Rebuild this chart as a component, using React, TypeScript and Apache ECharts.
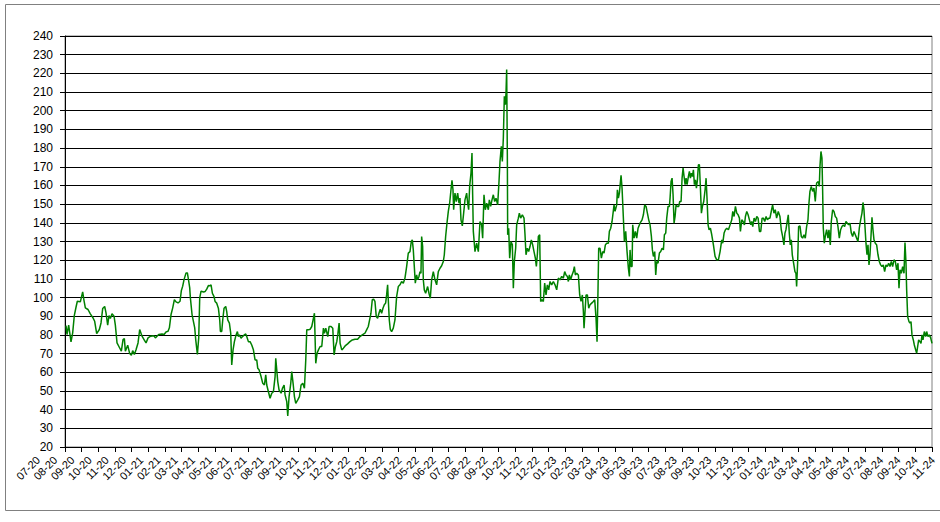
import React, { useEffect, useRef } from "react";
import * as echarts from "echarts";

const monthLabels = [
  "07-20", "08-20", "09-20", "10-20", "11-20", "12-20",
  "01-21", "02-21", "03-21", "04-21", "05-21", "06-21", "07-21", "08-21", "09-21", "10-21", "11-21", "12-21",
  "01-22", "02-22", "03-22", "04-22", "05-22", "06-22", "07-22", "08-22", "09-22", "10-22", "11-22", "12-22",
  "01-23", "02-23", "03-23", "04-23", "05-23", "06-23", "07-23", "08-23", "09-23", "10-23", "11-23", "12-23",
  "01-24", "02-24", "03-24", "04-24", "05-24", "06-24", "07-24", "08-24", "09-24", "10-24", "11-24",
];

// x position in months since July 2020
const monthOffset = [
  0.06, 0.12, 0.22, 0.36, 0.46, 0.56, 0.66, 0.74, 0.92, 1.06, 1.14, 1.22, 1.38, 1.52, 1.68, 1.78, 1.9, 2.06, 2.16, 2.26,
  2.38, 2.46, 2.56, 2.64, 2.72, 2.82, 2.94, 3.02, 3.12, 3.28, 3.38, 3.48, 3.56, 3.62, 3.76, 3.88, 3.98, 4.06, 4.16, 4.26,
  4.38, 4.48, 4.62, 4.74, 4.86, 4.98, 5.14, 5.32, 5.42, 5.62, 5.82, 5.94, 6.06, 6.18, 6.26, 6.36, 6.46, 6.56, 6.66, 6.78,
  6.9, 6.98, 7.06, 7.14, 7.26, 7.34, 7.42, 7.48, 7.52, 7.62, 7.72, 7.78, 7.84, 7.94, 8.02, 8.08, 8.16, 8.32, 8.4, 8.5,
  8.6, 8.7, 8.76, 8.84, 8.94, 9.0, 9.1, 9.2, 9.28, 9.32, 9.4, 9.46, 9.54, 9.64, 9.7, 9.76, 9.86, 9.94, 10.0, 10.08,
  10.16, 10.26, 10.34, 10.4, 10.46, 10.56, 10.64, 10.76, 10.84, 10.9, 11.0, 11.1, 11.2, 11.3, 11.4, 11.5, 11.56, 11.64, 11.76, 11.86,
  11.96, 12.04, 12.1, 12.2, 12.3, 12.4, 12.5, 12.6, 12.64, 12.7, 12.76, 12.84, 12.96, 13.04, 13.14, 13.2, 13.3, 13.36, 13.44, 13.54,
  13.6, 13.68, 13.76, 13.84, 13.96, 14.06, 14.16, 14.26, 14.36, 14.44, 14.5, 14.6, 14.7, 14.8, 14.88, 14.96, 15.04, 15.12, 15.2, 15.3,
  15.4, 15.5, 15.56, 15.64, 15.76, 15.84, 15.96, 16.06, 16.14, 16.22, 16.3, 16.36, 16.44, 16.5, 16.6, 16.7, 16.8, 16.95, 17.09, 17.23,
  17.39, 17.55, 17.69, 17.83, 17.99, 18.09, 18.19, 18.27, 18.35, 18.43, 18.51, 18.59, 18.67, 18.75, 18.83, 18.91, 18.99, 19.07, 19.15, 19.23,
  19.29, 19.35, 19.39, 19.45, 19.51, 19.59, 19.69, 19.79, 19.89, 19.99, 20.09, 20.19, 20.29, 20.39, 20.49, 20.59, 20.69, 20.77, 20.83, 20.89,
  20.95, 21.01, 21.09, 21.15, 21.23, 21.29, 21.35, 21.39, 21.45, 21.49, 21.55, 21.63, 21.75, 21.83, 21.91, 21.99, 22.09, 22.19, 22.29, 22.39,
  22.49, 22.59, 22.69, 22.75, 22.83, 22.91, 22.99, 23.07, 23.15, 23.21, 23.27, 23.31, 23.39, 23.47, 23.55, 23.63, 23.69, 23.75, 23.83, 23.91,
  23.99, 24.09, 24.15, 24.21, 24.27, 24.35, 24.41, 24.45, 24.49, 24.59, 24.69, 24.79, 24.89, 24.99, 25.05, 25.13, 25.21, 25.29, 25.39, 25.45,
  25.53, 25.61, 25.69, 25.77, 25.85, 25.95, 26.03, 26.09, 26.17, 26.23, 26.29, 26.35, 26.41, 26.45, 26.49, 26.53, 26.55, 26.61, 26.67, 26.75,
  26.83, 26.89, 26.95, 27.03, 27.09, 27.19, 27.25, 27.33, 27.43, 27.53, 27.59, 27.65, 27.73, 27.81, 27.89, 27.97, 28.05, 28.13, 28.21, 28.27,
  28.33, 28.39, 28.47, 28.53, 28.61, 28.69, 28.77, 28.85, 28.93, 29.01, 29.09, 29.19, 29.29, 29.39, 29.49, 29.59, 29.69, 29.79, 29.89, 29.97,
  30.05, 30.13, 30.19, 30.25, 30.33, 30.41, 30.49, 30.55, 30.61, 30.69, 30.79, 30.87, 30.95, 31.03, 31.09, 31.13, 31.19, 31.25, 31.33, 31.41,
  31.49, 31.59, 31.69, 31.77, 31.85, 31.91, 31.97, 32.01, 32.09, 32.17, 32.25, 32.33, 32.41, 32.49, 32.59, 32.65, 32.73, 32.81, 32.93, 32.99,
  33.09, 33.13, 33.19, 33.25, 33.35, 33.41, 33.49, 33.55, 33.63, 33.71, 33.79, 33.85, 33.89, 33.95, 34.01, 34.05, 34.13, 34.21, 34.29, 34.37,
  34.49, 34.61, 34.69, 34.77, 34.85, 34.93, 35.01, 35.09, 35.17, 35.23, 35.29, 35.37, 35.43, 35.49, 35.57, 35.65, 35.73, 35.81, 35.89, 35.95,
  36.03, 36.09, 36.17, 36.25, 36.29, 36.35, 36.41, 36.47, 36.53, 36.59, 36.65, 36.73, 36.81, 36.87, 36.95, 37.01, 37.07, 37.13, 37.19, 37.25,
  37.31, 37.39, 37.45, 37.51, 37.57, 37.63, 37.69, 37.75, 37.81, 37.87, 37.93, 37.99, 38.05, 38.11, 38.17, 38.23, 38.31, 38.39, 38.45, 38.51,
  38.57, 38.63, 38.71, 38.79, 38.89, 38.99, 39.09, 39.19, 39.29, 39.39, 39.45, 39.53, 39.61, 39.69, 39.79, 39.89, 39.99, 40.05, 40.13, 40.21,
  40.29, 40.37, 40.45, 40.51, 40.59, 40.67, 40.75, 40.81, 40.89, 40.97, 41.05, 41.13, 41.19, 41.25, 41.33, 41.41, 41.49, 41.57, 41.65, 41.73,
  41.81, 41.89, 41.97, 42.05, 42.13, 42.21, 42.28, 42.38, 42.44, 42.52, 42.6, 42.68, 42.78, 42.88, 42.96, 43.04, 43.12, 43.18, 43.24, 43.3,
  43.38, 43.44, 43.5, 43.56, 43.62, 43.7, 43.78, 43.84, 43.88, 43.94, 44.0, 44.08, 44.16, 44.24, 44.32, 44.4, 44.48, 44.56, 44.62, 44.68,
  44.76, 44.84, 44.92, 45.0, 45.08, 45.18, 45.24, 45.28, 45.34, 45.4, 45.44, 45.48, 45.54, 45.6, 45.68, 45.76, 45.82, 45.9, 45.96, 46.04,
  46.12, 46.2, 46.28, 46.36, 46.44, 46.52, 46.6, 46.68, 46.76, 46.84, 46.92, 47.0, 47.08, 47.16, 47.24, 47.32, 47.4, 47.48, 47.56, 47.64,
  47.72, 47.8, 47.86, 47.92, 47.98, 48.04, 48.1, 48.16, 48.22, 48.28, 48.34, 48.4, 48.46, 48.52, 48.6, 48.68, 48.76, 48.84, 48.92, 49.0,
  49.08, 49.16, 49.24, 49.32, 49.4, 49.48, 49.56, 49.64, 49.72, 49.8, 49.88, 49.96, 50.02, 50.08, 50.16, 50.24, 50.32, 50.38, 50.44, 50.48,
  50.54, 50.62, 50.68, 50.74, 50.8, 50.88, 50.94, 51.02, 51.08, 51.14, 51.2, 51.28, 51.34, 51.4, 51.46, 51.54, 51.62, 51.68, 51.76, 51.84,
  51.92, 52.0,
];

const price = [
  85, 80.2, 85.2, 76.3, 81.1, 90.5, 94.8, 98, 97.7, 103, 98.4, 94.5, 93.6, 91.3, 89.1, 87.3, 80.7, 82.9, 86.4, 94.1,
  95.2, 91.8, 85.2, 90.4, 88.8, 91.3, 90, 85.2, 75.7, 73, 71.3, 77.5, 78, 71.3, 74.5, 70, 69.1, 71.6, 69.5, 72.1,
  75.7, 82.9, 79.3, 77.5, 75.7, 78.4, 79.3, 79.6, 78.4, 80.2, 80.5, 80.2, 81.6, 82, 83.8, 90.9, 94.5, 98.9, 97.7, 97.1,
  98, 103.8, 106.1, 109.6, 113.2, 113.2, 108.8, 105.2, 99.8, 90.9, 86.4, 83.8, 77.5, 69.5, 78.4, 99.8, 103.4, 103, 103.2, 104.5,
  106.4, 106.3, 106.8, 102.3, 100.5, 97.9, 97, 94.3, 88, 81.8, 81.8, 88, 94.3, 95.2, 92.5, 88, 86.3, 80.9, 63.9, 72,
  76.4, 80, 81.8, 79.1, 80, 78.2, 79.1, 80, 80.5, 79.1, 76.4, 76.4, 74.6, 72, 66.6, 66.6, 62.1, 61.3, 57.7, 54.1,
  53.2, 58.6, 53.2, 49.6, 46.1, 48.8, 49.6, 57.7, 67.5, 61.3, 55, 50.5, 48.8, 51.4, 53.2, 47.9, 44.3, 36.6, 47, 54.1,
  60.4, 54.1, 47, 43.4, 45.2, 47, 53.2, 54.1, 51.4, 66.6, 82.7, 82.7, 83, 84.5, 88, 91.6, 64.8, 70.2, 72, 73.8,
  73.8, 83.6, 80.9, 83.6, 79.1, 84.5, 84.5, 83.6, 69.3, 73.8, 76.4, 80, 86.3, 75.5, 72, 72.9, 74.1, 75.2, 76.4, 77.3,
  77.7, 77.7, 79.1, 80, 80.9, 82.7, 84.5, 88, 91.6, 98.8, 99.1, 97.9, 89.8, 88.9, 91.6, 93.8, 91.6, 94.3, 96.1, 97,
  101.4, 106.8, 98.8, 88, 83, 81.8, 83.6, 88, 100.5, 105.9, 106.8, 108.6, 107.7, 110.4, 116.6, 123.8, 124.6, 130, 130.9, 125.5,
  116.6, 107.7, 112.1, 109.5, 111.3, 113.9, 113, 132.7, 127.3, 109.5, 104.1, 102.3, 105.9, 102.3, 99.6, 109.5, 113.9, 109.5, 106.8, 113.9,
  115.7, 117, 119.3, 122.9, 132.7, 139.8, 146.1, 150.5, 157.7, 162.7, 157.7, 147, 155.9, 151.4, 155.9, 150.5, 153.2, 141.6, 138.4, 145.2,
  152.3, 155.9, 150.5, 147, 159.5, 166.6, 177.3, 155, 135.4, 124.6, 129.1, 124.6, 140.7, 138.9, 131.8, 155, 147, 150.5, 147, 152.3,
  148.8, 152.3, 155, 151.4, 153.2, 149.6, 162.1, 172.9, 180.9, 172.9, 185.4, 207.7, 203.2, 209.5, 222, 176.4, 133.6, 137.1, 121.1, 130,
  128.2, 105, 119.3, 126.4, 138.9, 142.5, 145.2, 142.5, 144.3, 142.5, 133.6, 122.9, 126.4, 124.6, 127.3, 130.9, 128.2, 124.6, 121.1, 116.6,
  122.9, 132.7, 133.6, 97.9, 98.8, 97.9, 107.7, 101.4, 106.8, 104.1, 108.6, 106.8, 108.6, 106.8, 104.1, 110.4, 109.5, 111.3, 110.4, 113.9,
  112.1, 111.3, 108.6, 112.1, 109.5, 112.1, 113.9, 116.6, 112.1, 113, 112.1, 101.4, 97.9, 101.4, 92.5, 83.6, 92.5, 101.4, 101.4, 94.3,
  96.1, 97, 97.9, 98.8, 88.9, 76.4, 105, 126.4, 126.4, 121.1, 124.6, 123.8, 128.2, 129.1, 129.1, 135.4, 137.1, 140.7, 149.6, 146.1,
  149.6, 157.7, 153.2, 155.9, 165.4, 158.6, 142.5, 130, 135.4, 124.6, 115.7, 111.3, 125.5, 116.6, 116.6, 138.9, 131.8, 135.4, 131.8, 137.1,
  139.8, 141.6, 144.3, 149.6, 148.8, 145.2, 141.6, 138.9, 132.7, 125.5, 122, 124.6, 112.1, 119.3, 118.4, 123.8, 124.6, 126.4, 125.5, 133.6,
  134.5, 142.5, 148.8, 148.8, 153.2, 162.1, 163.9, 155, 139.8, 143.4, 149.6, 148.8, 148.8, 151.4, 151.4, 163.9, 169.3, 164.8, 160.4, 163.9,
  160.4, 164.8, 167.5, 163.9, 166.6, 164.8, 168.4, 160.4, 163, 158.6, 163, 171.1, 171.1, 158.6, 145.2, 148.8, 151.4, 157.7, 163.9, 152.3,
  138.9, 136.3, 137.1, 133.6, 128.2, 122, 120.2, 120.2, 124.6, 130.9, 129.1, 134.5, 136.3, 137.1, 136.3, 138.9, 141.6, 146.1, 143.4, 148.8,
  145.2, 144.3, 142.5, 135.4, 141.6, 140.7, 138.9, 143.4, 146.1, 144.3, 141.6, 138.9, 140.7, 138, 142.5, 140.7, 143.4, 142.5, 135.4, 135.4,
  142.5, 142.5, 140.7, 143.4, 141.6, 142.5, 142.5, 147, 149.6, 145.2, 147, 142.5, 146.1, 143.4, 136.3, 132.7, 128.2, 134.5, 136.3, 139.8,
  144.3, 134.5, 128.2, 130.9, 122.9, 118.4, 113.9, 113, 105.9, 118.4, 138, 138.4, 132.7, 131.8, 133.6, 131.8, 138, 141.6, 150.5, 156.8,
  159.5, 156.8, 158.6, 151.4, 161.3, 162.1, 159.5, 170.2, 178.2, 174.6, 157.7, 137.1, 129.1, 132.7, 136.3, 131.8, 136.3, 128.2, 140.7, 147,
  146.1, 143.4, 142.5, 138, 131.8, 136.3, 138, 138.9, 138, 140.7, 139.8, 138.9, 139.8, 134.5, 132.7, 135.4, 133.6, 131.8, 130, 137.1,
  141.6, 145.2, 150.9, 146.9, 138, 129.1, 122.9, 128.2, 117.5, 122.9, 132.7, 143, 136.3, 130.9, 129.1, 128.2, 122.9, 119.3, 117.5, 116.6,
  117.5, 113.9, 117.5, 116.6, 118.4, 116.6, 119.3, 116.6, 120.2, 119.3, 114.8, 118.4, 105, 114.8, 113, 116.6, 113, 129.5, 118.4, 104.1,
  89.8, 87.1, 86.3, 87.1, 80, 77.3, 74.6, 72, 70.2, 73.8, 77.3, 76.4, 75.5, 80, 77.3, 81.8, 79.1, 81.8, 79.1, 80,
  78.4, 75.5,
];

const yMin = 20;
const yMax = 240;
const yStep = 10;

export default function App() {
  const ref = useRef<HTMLDivElement>(null);

  useEffect(() => {
    if (!ref.current) return;
    const chart = echarts.init(ref.current, null, { renderer: "svg" });
    const data = monthOffset.map((m, i) => [m, price[i]]);
    const font = "'Liberation Sans', Arial, sans-serif";
    chart.setOption({
      animation: false,
      backgroundColor: "#ffffff",
      textStyle: { fontFamily: font },
      grid: [
        { left: 65, right: 8, top: 36, bottom: 75, show: true, borderColor: "#808080", borderWidth: 1, backgroundColor: "transparent" },
        { left: 38, right: 7, top: 36, bottom: 75 },
      ],
      xAxis: [
        {
          type: "value",
          gridIndex: 0,
          min: 0,
          max: monthLabels.length - 1,
          interval: 1,
          axisLine: { show: true, onZero: false, lineStyle: { color: "#000", width: 1 } },
          axisTick: { show: true, length: 5, lineStyle: { color: "#000" } },
          axisLabel: { show: false },
          splitLine: { show: false },
        },
        {
          type: "value",
          gridIndex: 1,
          min: 0,
          max: monthLabels.length - 1,
          interval: 1,
          axisLine: { show: false },
          axisTick: { show: false },
          splitLine: { show: false },
          axisLabel: {
            show: true,
            rotate: 45,
            fontSize: 11,
            color: "#000",
            margin: 11,
            fontFamily: font,
            showMinLabel: true,
            showMaxLabel: true,
            formatter: (v: number) => monthLabels[Math.round(v)] ?? "",
          },
        },
      ],
      yAxis: [
        {
          type: "value",
          gridIndex: 0,
          min: yMin,
          max: yMax,
          interval: yStep,
          axisLine: { show: true, lineStyle: { color: "#000", width: 1 } },
          axisTick: { show: true, length: 5, lineStyle: { color: "#000" } },
          axisLabel: { fontSize: 12, color: "#000", margin: 12, fontFamily: font },
          splitLine: { show: true, lineStyle: { color: "#000", width: 1 } },
        },
        { type: "value", gridIndex: 1, min: yMin, max: yMax, show: false },
      ],
      series: [
        {
          type: "line",
          xAxisIndex: 0,
          yAxisIndex: 0,
          data,
          symbol: "none",
          showSymbol: false,
          lineStyle: { color: "#008000", width: 1.5 },
          z: 3,
        },
      ],
      graphic: [
        {
          type: "rect",
          silent: true,
          shape: { x: 5.5, y: 4.5, width: 940, height: 506 },
          style: { fill: "none", stroke: "#808080", lineWidth: 1 },
        },
      ],
    });
    return () => chart.dispose();
  }, []);

  return <div ref={ref} style={{ position: "absolute", left: 0, top: 0, width: 940, height: 522 }} />;
}
